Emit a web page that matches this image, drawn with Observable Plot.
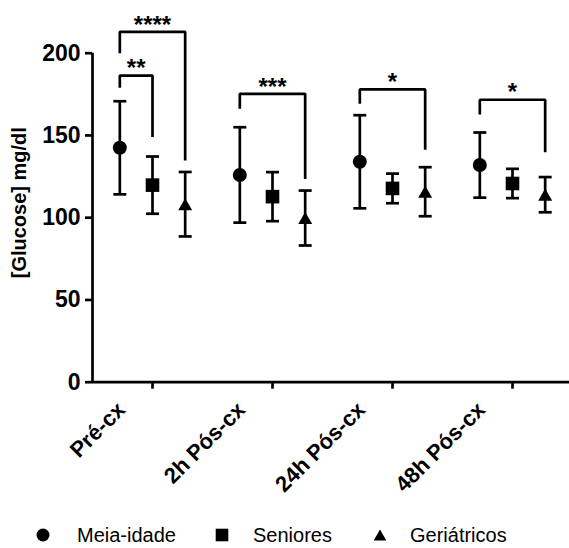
<!DOCTYPE html>
<html>
<head>
<meta charset="utf-8">
<script src="https://cdn.jsdelivr.net/npm/d3@7"></script>
<script src="https://cdn.jsdelivr.net/npm/@observablehq/plot@0.6"></script>
<style>
  html, body { margin: 0; padding: 0; background: #fff; }
  #chart { position: relative; width: 569px; height: 548px; overflow: hidden; font-family: "Liberation Sans", Arial, sans-serif; }
  #legend { position: relative; width: 569px; height: 38px; font: 20px "Liberation Sans", Arial, sans-serif; color: #000; }
  #legend svg { position: absolute; overflow: visible; }
  #legend span { position: absolute; white-space: nowrap; line-height: 20px; }
</style>
</head>
<body>
<div id="chart"></div>
<script>
// ---------- data ----------
const categories = ["Pré-cx", "2h Pós-cx", "24h Pós-cx", "48h Pós-cx"];
const series = ["Meia-idade", "Seniores", "Geriátricos"];

const meiaIdadeMean = [142.5, 126, 134, 132];
const meiaIdadeSD   = [28.3, 29, 28.3, 19.8];
const senioresMean  = [119.8, 112.8, 117.8, 120.8];
const senioresSD    = [17.4, 14.9, 9, 8.9];
const geriatricosMean = [108.2, 99.8, 115.8, 114];
const geriatricosSD   = [19.6, 16.7, 14.9, 10.7];

const yTicks = [0, 50, 100, 150, 200];
const yLabel = "[Glucose] mg/dl";

// significance brackets (series index from -> to, leg ends and top in mg/dl)
const bracketCats    = ["Pré-cx", "Pré-cx", "2h Pós-cx", "24h Pós-cx", "48h Pós-cx"];
const bracketFrom    = [0, 0, 0, 0, 0];
const bracketTo      = [1, 2, 2, 2, 2];
const bracketFromEnd = [179, 200, 166.2, 169.2, 162.7];
const bracketToEnd   = [149, 134.8, 123.6, 141.3, 139.8];
const bracketTop     = [186.4, 213, 175.3, 178, 171.7];
const bracketLabels  = ["**", "****", "***", "*", "*"];

// ---------- build tables ----------
const means = [meiaIdadeMean, senioresMean, geriatricosMean];
const sds = [meiaIdadeSD, senioresSD, geriatricosSD];
const rows = categories.flatMap((c, ci) => series.map((s, si) => ({
  cat: c, series: s, xi: si, mean: means[si][ci],
  low: means[si][ci] - sds[si][ci], high: means[si][ci] + sds[si][ci]
})));

const bracketPts = bracketCats.flatMap((c, i) => [
  {id: i, cat: c, x: bracketFrom[i], y: bracketFromEnd[i]},
  {id: i, cat: c, x: bracketFrom[i], y: bracketTop[i]},
  {id: i, cat: c, x: bracketTo[i], y: bracketTop[i]},
  {id: i, cat: c, x: bracketTo[i], y: bracketToEnd[i]}
]);
const bracketText = bracketCats.map((c, i) => ({
  cat: c, x: (bracketFrom[i] + bracketTo[i]) / 2, y: bracketTop[i], label: bracketLabels[i]
}));

// ---------- custom symbols ----------
const rad = size => Math.sqrt(size / Math.PI);
const circleSym = {draw(ctx, size) { const r = rad(size); ctx.moveTo(r, 0); ctx.arc(0, 0, r, 0, 2 * Math.PI); }};
const squareSym = {draw(ctx, size) { const r = rad(size); ctx.rect(-r, -r, 2 * r, 2 * r); }};
const triangleSym = {draw(ctx, size) { const r = rad(size); const h = r * Math.sqrt(3);
  ctx.moveTo(0, -h / 2); ctx.lineTo(r, h / 2); ctx.lineTo(-r, h / 2); ctx.closePath(); }};
const capSym = {draw(ctx, size) { const r = rad(size); ctx.moveTo(-r, 0); ctx.lineTo(r, 0); }};
const symbols = [circleSym, squareSym, triangleSym];
const symR = [7, 6.8, 7];

const font = "'Liberation Sans', Arial, sans-serif";
const sw = 2.7;

const marks = [
  // axes lines
  Plot.ruleY([0], {strokeWidth: sw}),
  Plot.ruleX([{cat: categories[0]}], {fx: "cat", x: () => -0.836, y1: 0, y2: 200, strokeWidth: sw}),
  Plot.axisY({ticks: yTicks, tickSize: 7, tickPadding: 5, strokeWidth: sw, fontSize: 23, fontWeight: "bold", label: null}),
  Plot.text([{cat: categories[0]}], {fx: "cat", text: () => yLabel, frameAnchor: "left", textAnchor: "middle",
    rotate: -90, dx: -73, dy: -15, fontSize: 20, fontWeight: "bold"}),
  // fx ticks (no labels)
  Plot.axisFx({anchor: "bottom", tickSize: 7, strokeWidth: sw, tickFormat: () => "", label: null}),
  // fx labels (rotated)
  Plot.axisFx({anchor: "bottom", tickSize: 0, tickRotate: -45, tickPadding: 6,
    fontSize: 22, fontWeight: "bold", label: null, dx: -31, dy: 18}),
  // error bars
  Plot.ruleX(rows, {fx: "cat", x: "xi", y1: "low", y2: "high", strokeWidth: sw}),
  Plot.dot(rows, {fx: "cat", x: "xi", y: "low", symbol: () => capSym, r: 6.5, stroke: "black", fill: "none", strokeWidth: sw}),
  Plot.dot(rows, {fx: "cat", x: "xi", y: "high", symbol: () => capSym, r: 6.5, stroke: "black", fill: "none", strokeWidth: sw}),
  // markers
  ...series.map((s, si) => Plot.dot(rows.filter(d => d.xi === si), {
    fx: "cat", x: "xi", y: "mean", symbol: () => symbols[si], r: symR[si], fill: "black", stroke: "none"
  })),
  // brackets
  Plot.line(bracketPts, {fx: "cat", x: "x", y: "y", z: "id", strokeWidth: sw, strokeLinejoin: "miter", strokeLinecap: "butt"}),
  Plot.text(bracketText, {fx: "cat", x: "x", y: "y", text: "label", fontSize: 24, fontWeight: "bold", dy: -7})
];

const plot = Plot.plot({
  width: 569,
  height: 510,
  marginLeft: 92.25,
  marginRight: -3.65,
  marginTop: 52.7,
  marginBottom: 128.3,
  style: {fontFamily: font, color: "#000", background: "#fff", overflow: "visible"},
  fx: {domain: categories, padding: 0, label: null},
  x: {type: "linear", domain: [-0.836, 2.836], axis: null},
  y: {domain: [0, 200], axis: null},
  symbol: {type: "identity"},
  marks
});

const chart = document.getElementById("chart");
chart.appendChild(plot);

// ---------- legend ----------
const legend = document.createElement("div");
legend.id = "legend";
const legendSymX = [43, 222, 380];
const legendTextX = [77, 253, 410];
series.forEach((s, i) => {
  const svg = d3.create("svg").attr("width", 20).attr("height", 20)
    .style("left", (legendSymX[i] - 10) + "px").style("top", (25 - 10) + "px");
  svg.append("path")
    .attr("transform", "translate(10,10)")
    .attr("d", d3.symbol(symbols[i], Math.PI * Math.pow(i === 0 ? 6.5 : 6.3, 2))());
  legend.appendChild(svg.node());
  const span = document.createElement("span");
  span.textContent = s;
  span.style.left = legendTextX[i] + "px";
  span.style.top = "15px";
  legend.appendChild(span);
});
chart.appendChild(legend);
</script>
</body>
</html>
